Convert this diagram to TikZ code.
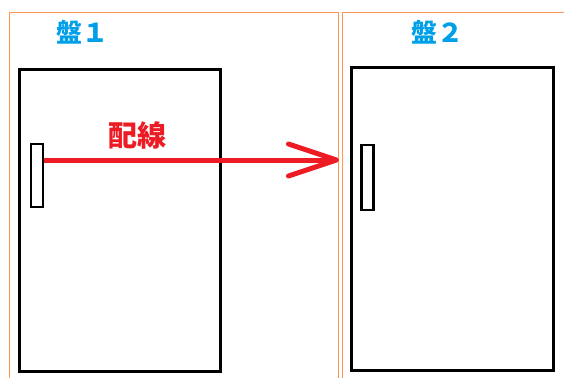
\documentclass[tikz,border=0pt]{standalone}
\usepackage{fontspec}
\newfontfamily\jpfont{Noto Sans CJK JP}
\usetikzlibrary{arrows.meta}
\definecolor{frameorange}{RGB}{250,150,80}
\definecolor{titleblue}{RGB}{0,160,233}
\definecolor{wirered}{RGB}{237,28,36}
\tikzset{
  frame/.style={draw=frameorange, line width=1pt, anchor=north west, inner sep=0pt},
  cabinet/.style={draw=black, line width=3pt, fill=white, inner sep=0pt},
  handle/.style={draw=black, line width=2.4pt, fill=white, inner sep=0pt,
    minimum width=12pt, minimum height=63pt},
  title/.style={text=titleblue, font=\jpfont\bfseries\fontsize{26}{26}\selectfont},
}
\begin{document}
\begin{tikzpicture}[x=1pt,y=-1pt]
  \useasboundingbox (0,0) rectangle (564,377);

  % frames
  \node[frame, minimum width=329pt, minimum height=380pt] (f1) at (9,12) {};
  \node[frame, minimum width=240pt, minimum height=380pt] (f2) at (342,12) {};

  % titles
  \node[title] (t1) at (82,32) {盤１};
  \node[title] (t2) at (437,32) {盤２};

  % cabinets
  \node[cabinet, minimum width=201pt, minimum height=302pt] (c1) at (120,220.5) {};
  \node[cabinet, minimum width=202pt, minimum height=303pt] (c2) at (452.5,219) {};

  % handles
  \node[handle] (h1) at (37,175.5) {};
  \node[handle, minimum height=65pt] (h2) at (367.5,177.5) {};

  % wiring
  \coordinate (w0) at ([yshift=15.5pt]h1.east);
  \draw[wirered, line width=5pt,
    -{Straight Barb[length=48pt,width=32pt,line width=5pt,round]}]
    (w0) -- (w0 -| f1.east);
  \node[text=wirered, font=\jpfont\bfseries\fontsize{29}{29}\selectfont] (lbl) at (137,135) {配線};
\end{tikzpicture}
\end{document}
